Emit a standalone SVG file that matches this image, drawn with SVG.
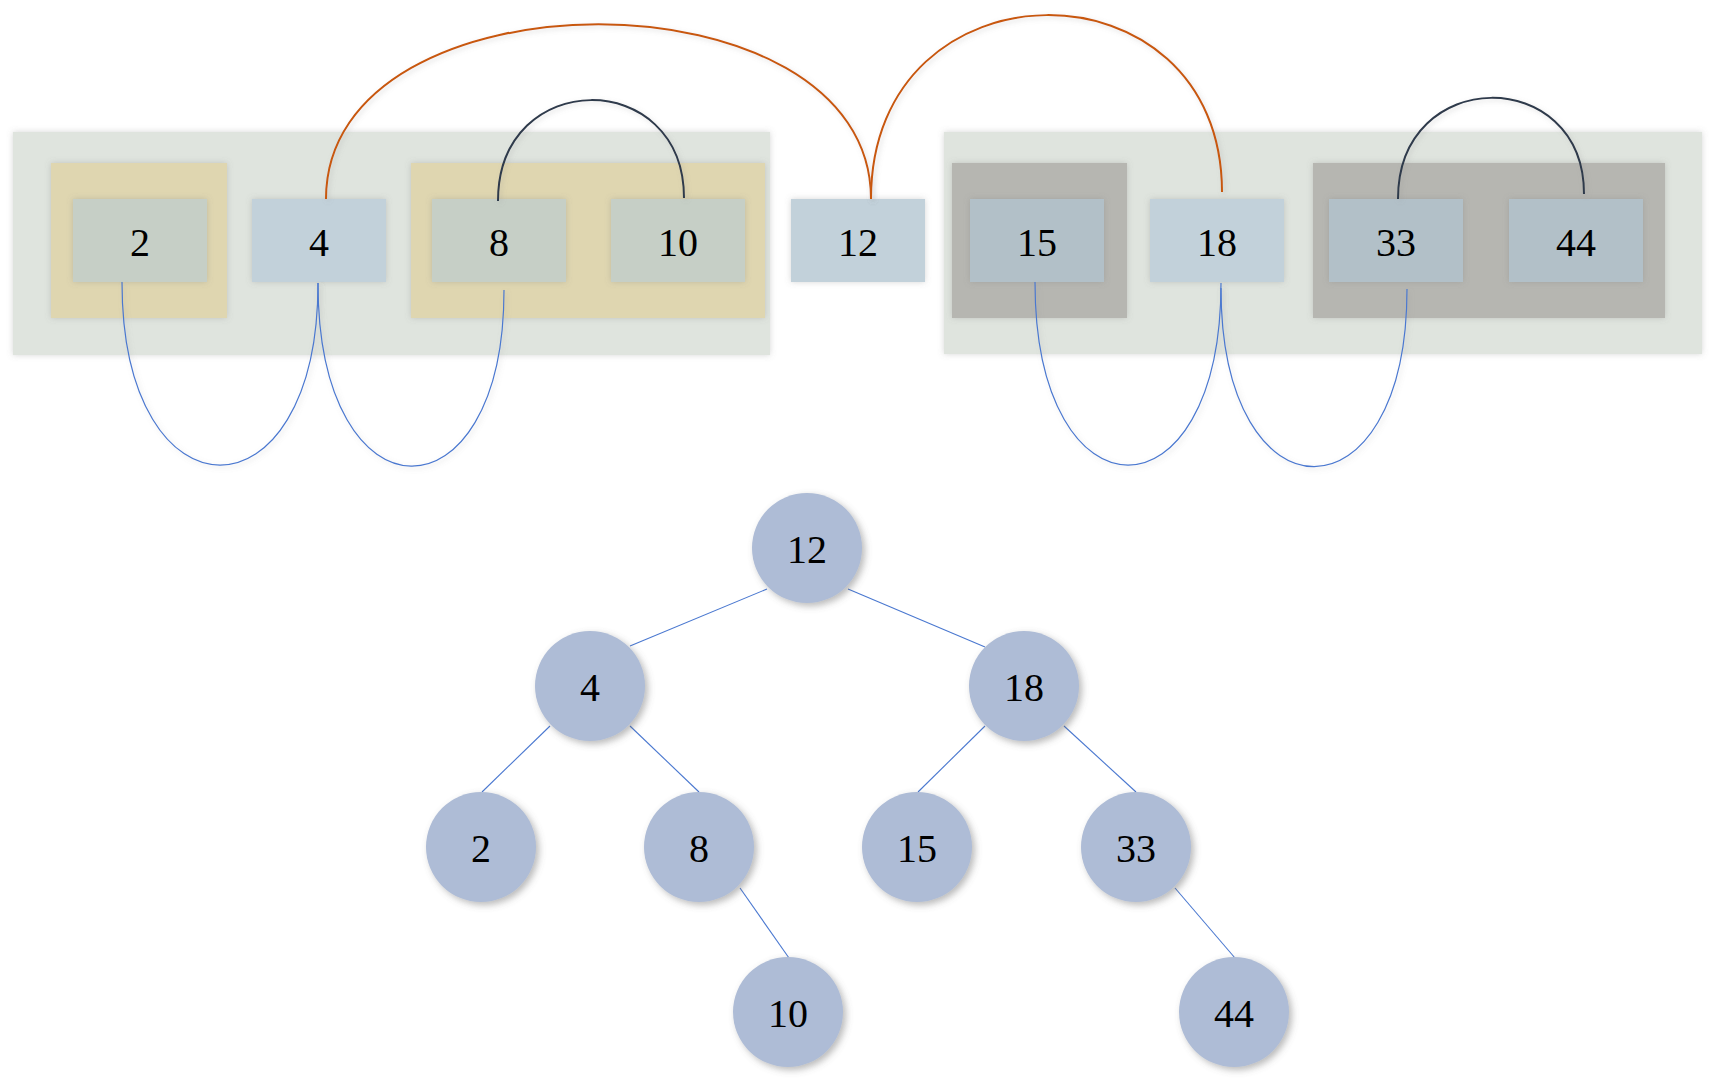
<svg xmlns="http://www.w3.org/2000/svg" width="1716" height="1085" viewBox="0 0 1716 1085">
<style>
.t{font-family:"Liberation Serif","DejaVu Serif",serif;font-size:40px;fill:#000;text-anchor:middle}
.outer{fill:#dfe4de}
.yel{fill:#dfd6b0}
.gry{fill:#b6b6b1}
.ny{fill:#c6cfc6}
.nb{fill:#c2d1da}
.ng{fill:#b2c0c8}
.circ{fill:#aebcd6}
.blue{fill:none;stroke:#4a78d0;stroke-width:1.2}
.dark{fill:none;stroke:#2f3a4c;stroke-width:2}
.org{fill:none;stroke:#c8580e;stroke-width:2}
.edge{fill:none;stroke:#4a78d0;stroke-width:1.1}
</style>
<defs>
<filter id="bsh" x="-10%" y="-10%" width="120%" height="120%">
<feDropShadow dx="0" dy="0" stdDeviation="3" flood-color="#777" flood-opacity="0.3"/>
</filter>
<filter id="csh" x="-30%" y="-30%" width="160%" height="160%">
<feDropShadow dx="3" dy="3" stdDeviation="3.5" flood-color="#666" flood-opacity="0.45"/>
</filter>
<filter id="lsh" x="-10%" y="-10%" width="120%" height="120%">
<feDropShadow dx="2" dy="2" stdDeviation="2.5" flood-color="#888" flood-opacity="0.3"/>
</filter>
</defs>
<g id="containers">
<rect id="outer-left" class="outer" x="13" y="132" width="757" height="223" filter="url(#bsh)"/>
<rect id="outer-right" class="outer" x="944" y="132" width="758" height="222" filter="url(#bsh)"/>
<rect id="box-2" class="yel" x="51" y="163" width="176" height="155" filter="url(#bsh)"/>
<rect id="box-8-10" class="yel" x="411" y="163" width="354" height="155" filter="url(#bsh)"/>
<rect id="box-15" class="gry" x="952" y="163" width="175" height="155" filter="url(#bsh)"/>
<rect id="box-33-44" class="gry" x="1313" y="163" width="352" height="155" filter="url(#bsh)"/>
</g>
<g id="a2"><rect class="ny" x="73" y="199" width="134" height="83" filter="url(#bsh)"/><text class="t" x="140" y="256">2</text></g>
<g id="a4"><rect class="nb" x="252" y="199" width="134" height="83" filter="url(#bsh)"/><text class="t" x="319" y="256">4</text></g>
<g id="a8"><rect class="ny" x="432" y="199" width="134" height="83" filter="url(#bsh)"/><text class="t" x="499" y="256">8</text></g>
<g id="a10"><rect class="ny" x="611" y="199" width="134" height="83" filter="url(#bsh)"/><text class="t" x="678" y="256">10</text></g>
<g id="a12"><rect class="nb" x="791" y="199" width="134" height="83" filter="url(#bsh)"/><text class="t" x="858" y="256">12</text></g>
<g id="a15"><rect class="ng" x="970" y="199" width="134" height="83" filter="url(#bsh)"/><text class="t" x="1037" y="256">15</text></g>
<g id="a18"><rect class="nb" x="1150" y="199" width="134" height="83" filter="url(#bsh)"/><text class="t" x="1217" y="256">18</text></g>
<g id="a33"><rect class="ng" x="1329" y="199" width="134" height="83" filter="url(#bsh)"/><text class="t" x="1396" y="256">33</text></g>
<g id="a44"><rect class="ng" x="1509" y="199" width="134" height="83" filter="url(#bsh)"/><text class="t" x="1576" y="256">44</text></g>
<g id="connectors">
<path class="org" filter="url(#lsh)" d="M326,199 C326,-34 871,-34 871,199"/>
<path class="org" filter="url(#lsh)" d="M871,199 C871,-45 1222,-45 1222,192"/>
<path class="dark" filter="url(#lsh)" d="M498,201 C498,67 684,67 684,198"/>
<path class="dark" filter="url(#lsh)" d="M1398,199 C1398,65 1584,65 1584,194"/>
<path class="blue" filter="url(#lsh)" d="M122,282 C122,526 318,526 318,283"/>
<path class="blue" filter="url(#lsh)" d="M318,283 C318,526 504,526 504,290"/>
<path class="blue" filter="url(#lsh)" d="M1035,282 C1035,526 1221,526 1221,283"/>
<path class="blue" filter="url(#lsh)" d="M1221,288 C1221,526 1407,526 1407,289"/>
<line class="edge" x1="767" y1="589" x2="630" y2="646"/>
<line class="edge" x1="848" y1="589" x2="985" y2="647"/>
<line class="edge" x1="550" y1="726" x2="482" y2="792"/>
<line class="edge" x1="630" y1="726" x2="699" y2="792"/>
<line class="edge" x1="985" y1="726" x2="918" y2="792"/>
<line class="edge" x1="1064" y1="726" x2="1136" y2="792"/>
<line class="edge" x1="740" y1="888" x2="789" y2="958"/>
<line class="edge" x1="1175" y1="888" x2="1235" y2="958"/>
</g>
<g id="t12"><circle class="circ" cx="807" cy="548" r="55" filter="url(#csh)"/><text class="t" x="807" y="563">12</text></g>
<g id="t4"><circle class="circ" cx="590" cy="686" r="55" filter="url(#csh)"/><text class="t" x="590" y="701">4</text></g>
<g id="t18"><circle class="circ" cx="1024" cy="686" r="55" filter="url(#csh)"/><text class="t" x="1024" y="701">18</text></g>
<g id="t2"><circle class="circ" cx="481" cy="847" r="55" filter="url(#csh)"/><text class="t" x="481" y="862">2</text></g>
<g id="t8"><circle class="circ" cx="699" cy="847" r="55" filter="url(#csh)"/><text class="t" x="699" y="862">8</text></g>
<g id="t15"><circle class="circ" cx="917" cy="847" r="55" filter="url(#csh)"/><text class="t" x="917" y="862">15</text></g>
<g id="t33"><circle class="circ" cx="1136" cy="847" r="55" filter="url(#csh)"/><text class="t" x="1136" y="862">33</text></g>
<g id="t10"><circle class="circ" cx="788" cy="1012" r="55" filter="url(#csh)"/><text class="t" x="788" y="1027">10</text></g>
<g id="t44"><circle class="circ" cx="1234" cy="1012" r="55" filter="url(#csh)"/><text class="t" x="1234" y="1027">44</text></g>
</svg>
